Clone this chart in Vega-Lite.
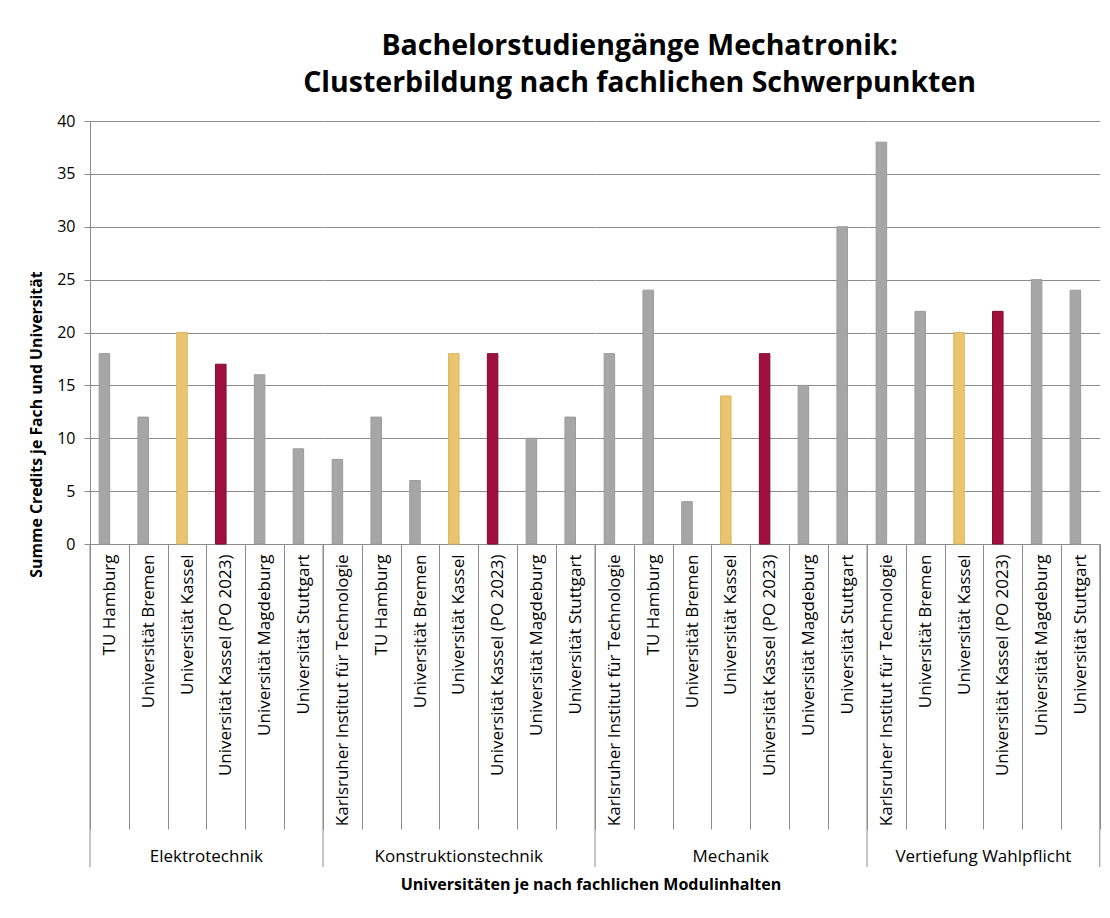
{
  "$schema": "https://vega.github.io/schema/vega-lite/v6.json",
  "description": "Bachelorstudiengänge Mechatronik: Credits je Fach und Universität, gruppiert nach fachlichem Schwerpunkt.",
  "padding": {"left": 28, "top": 31, "right": 10, "bottom": 5},
  "background": "white",
  "bounds": "flush",
  "title": {
    "text": ["Bachelorstudiengänge Mechatronik:", "Clusterbildung nach fachlichen Schwerpunkten"],
    "font": "Open Sans",
    "fontSize": 28.5,
    "fontWeight": "bold",
    "color": "#000000",
    "lineHeight": 37,
    "anchor": "middle",
    "dx": 75,
    "offset": 16
  },
  "data": {
    "values": [
      {"group": "Elektrotechnik", "uni": "TU Hamburg", "credits": 18},
      {"group": "Elektrotechnik", "uni": "Universität Bremen", "credits": 12},
      {"group": "Elektrotechnik", "uni": "Universität Kassel", "credits": 20},
      {"group": "Elektrotechnik", "uni": "Universität Kassel (PO 2023)", "credits": 17},
      {"group": "Elektrotechnik", "uni": "Universität Magdeburg", "credits": 16},
      {"group": "Elektrotechnik", "uni": "Universität Stuttgart", "credits": 9},
      {"group": "Konstruktionstechnik", "uni": "Karlsruher Institut für Technologie", "credits": 8},
      {"group": "Konstruktionstechnik", "uni": "TU Hamburg", "credits": 12},
      {"group": "Konstruktionstechnik", "uni": "Universität Bremen", "credits": 6},
      {"group": "Konstruktionstechnik", "uni": "Universität Kassel", "credits": 18},
      {"group": "Konstruktionstechnik", "uni": "Universität Kassel (PO 2023)", "credits": 18},
      {"group": "Konstruktionstechnik", "uni": "Universität Magdeburg", "credits": 10},
      {"group": "Konstruktionstechnik", "uni": "Universität Stuttgart", "credits": 12},
      {"group": "Mechanik", "uni": "Karlsruher Institut für Technologie", "credits": 18},
      {"group": "Mechanik", "uni": "TU Hamburg", "credits": 24},
      {"group": "Mechanik", "uni": "Universität Bremen", "credits": 4},
      {"group": "Mechanik", "uni": "Universität Kassel", "credits": 14},
      {"group": "Mechanik", "uni": "Universität Kassel (PO 2023)", "credits": 18},
      {"group": "Mechanik", "uni": "Universität Magdeburg", "credits": 15},
      {"group": "Mechanik", "uni": "Universität Stuttgart", "credits": 30},
      {"group": "Vertiefung Wahlpflicht", "uni": "Karlsruher Institut für Technologie", "credits": 38},
      {"group": "Vertiefung Wahlpflicht", "uni": "Universität Bremen", "credits": 22},
      {"group": "Vertiefung Wahlpflicht", "uni": "Universität Kassel", "credits": 20},
      {"group": "Vertiefung Wahlpflicht", "uni": "Universität Kassel (PO 2023)", "credits": 22},
      {"group": "Vertiefung Wahlpflicht", "uni": "Universität Magdeburg", "credits": 25},
      {"group": "Vertiefung Wahlpflicht", "uni": "Universität Stuttgart", "credits": 24}
    ]
  },
  "facet": {
    "column": {
      "field": "group",
      "type": "nominal",
      "sort": ["Elektrotechnik", "Konstruktionstechnik", "Mechanik", "Vertiefung Wahlpflicht"],
      "header": {
        "title": "Universitäten je nach fachlichen Modulinhalten",
        "titleOrient": "bottom",
        "titleFont": "Open Sans",
        "titleFontSize": 16,
        "titleFontWeight": "bold",
        "titleColor": "#000000",
        "titlePadding": 2,
        "labelOrient": "bottom",
        "labelFont": "Open Sans",
        "labelFontSize": 17,
        "labelColor": "#000000",
        "labelPadding": 305
      }
    }
  },
  "spacing": 0,
  "resolve": {"scale": {"x": "independent"}},
  "spec": {
    "width": {"step": 38.8},
    "height": 423,
    "layer": [
      {
        "mark": {"type": "bar", "width": 10.5, "xOffset": -5, "strokeWidth": 1},
        "encoding": {
          "x": {
            "field": "uni",
            "type": "nominal",
            "sort": null,
            "scale": {"paddingInner": 0, "paddingOuter": 0},
            "axis": {
              "title": null,
              "labelAngle": 270,
              "labelFont": "Open Sans",
              "labelFontSize": 17,
              "labelColor": "#000000",
              "labelPadding": -275,
              "labelLimit": 400,
              "tickBand": "extent",
              "tickColor": "#8c8c8c",
              "tickSize": 285,
              "domainColor": "#8c8c8c"
            }
          },
          "y": {
            "field": "credits",
            "type": "quantitative",
            "scale": {"domain": [0, 40], "nice": false},
            "axis": {
              "title": "Summe Credits je Fach und Universität",
              "titleFont": "Open Sans",
              "titleFontSize": 15.8,
              "titleFontWeight": "bold",
              "titleColor": "#000000",
              "titlePadding": 12,
              "titleY": 303,
              "values": [0, 5, 10, 15, 20, 25, 30, 35, 40],
              "labelFont": "Open Sans",
              "labelFontSize": 16,
              "labelColor": "#000000",
              "labelPadding": 9,
              "tickSize": 6,
              "tickColor": "#8c8c8c",
              "domainColor": "#8c8c8c",
              "gridColor": "#8c8c8c"
            }
          },
          "color": {
            "field": "uni",
            "type": "nominal",
            "legend": null,
            "scale": {
              "domain": ["Karlsruher Institut für Technologie", "TU Hamburg", "Universität Bremen", "Universität Kassel", "Universität Kassel (PO 2023)", "Universität Magdeburg", "Universität Stuttgart"],
              "range": ["#a6a6a6", "#a6a6a6", "#a6a6a6", "#eac46e", "#a0103e", "#a6a6a6", "#a6a6a6"]
            }
          },
          "stroke": {
            "field": "uni",
            "type": "nominal",
            "legend": null,
            "scale": {
              "domain": ["Karlsruher Institut für Technologie", "TU Hamburg", "Universität Bremen", "Universität Kassel", "Universität Kassel (PO 2023)", "Universität Magdeburg", "Universität Stuttgart"],
              "range": ["#9a9a9a", "#9a9a9a", "#9a9a9a", "#dcb55e", "#7e0a30", "#9a9a9a", "#9a9a9a"]
            }
          }
        }
      },
      {
        "transform": [
          {"filter": "datum.uni === (datum.group === 'Elektrotechnik' ? 'TU Hamburg' : 'Karlsruher Institut für Technologie')"}
        ],
        "mark": {"type": "rule", "color": "#8c8c8c", "strokeWidth": 1},
        "encoding": {
          "x": {"field": "uni", "type": "nominal", "sort": null, "bandPosition": 0},
          "y": {"datum": 0, "type": "quantitative"},
          "y2": {"datum": -30.55}
        }
      },
      {
        "transform": [
          {"filter": "datum.group === 'Vertiefung Wahlpflicht' && datum.uni === 'Universität Stuttgart'"}
        ],
        "mark": {"type": "rule", "color": "#8c8c8c", "strokeWidth": 1},
        "encoding": {
          "x": {"field": "uni", "type": "nominal", "sort": null, "bandPosition": 1},
          "y": {"datum": 0, "type": "quantitative"},
          "y2": {"datum": -30.55}
        }
      }
    ]
  },
  "config": {
    "font": "Open Sans",
    "view": {"stroke": null},
    "axis": {"gridWidth": 1, "domainWidth": 1, "tickWidth": 1}
  }
}
